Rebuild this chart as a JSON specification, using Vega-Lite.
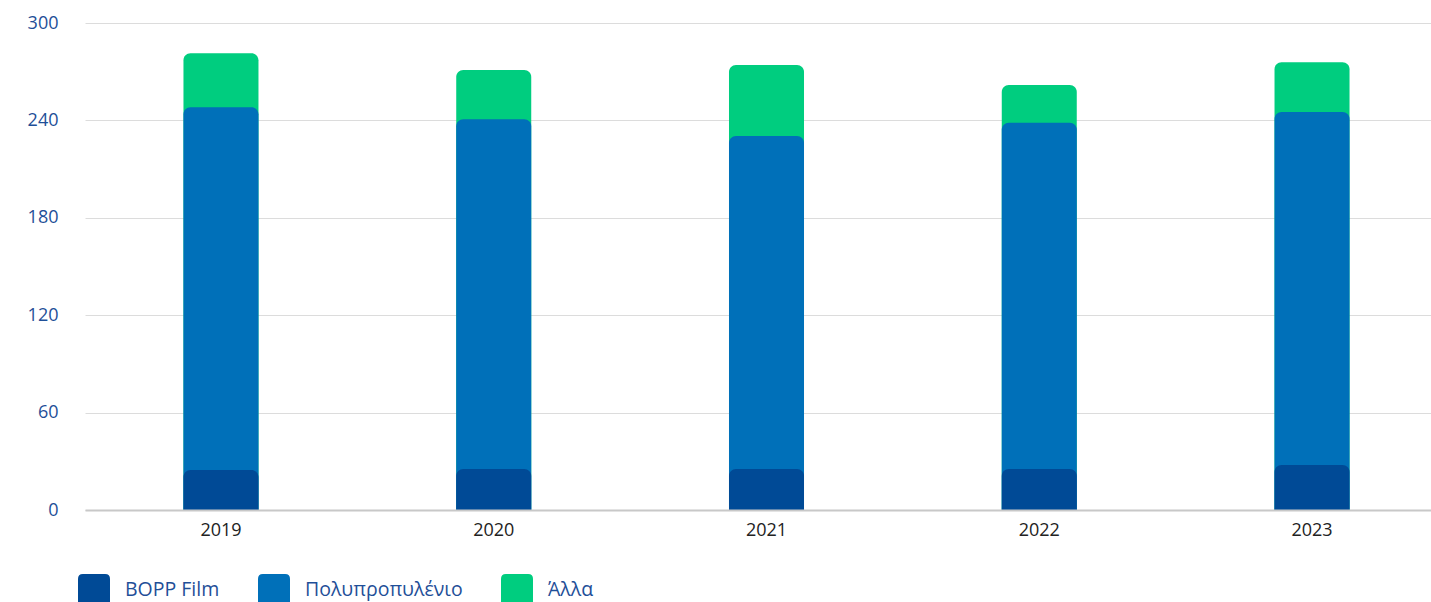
{
  "$schema": "https://vega.github.io/schema/vega-lite/v6.json",
  "autosize": "none",
  "width": 1363,
  "height": 487,
  "padding": {"left": 85, "top": 23, "right": 0, "bottom": 92},
  "background": "white",
  "config": {"view": {"stroke": null}, "font": "Open Sans"},
  "data": {
    "values": [
      {"year": "2019", "type": "Άλλα", "ord": 3, "value": 33.2},
      {"year": "2019", "type": "Πολυπροπυλένιο", "ord": 2, "value": 223.5},
      {"year": "2019", "type": "BOPP Film", "ord": 1, "value": 24.6},
      {"year": "2020", "type": "Άλλα", "ord": 3, "value": 30.4},
      {"year": "2020", "type": "Πολυπροπυλένιο", "ord": 2, "value": 215.4},
      {"year": "2020", "type": "BOPP Film", "ord": 1, "value": 25.3},
      {"year": "2021", "type": "Άλλα", "ord": 3, "value": 43.7},
      {"year": "2021", "type": "Πολυπροπυλένιο", "ord": 2, "value": 205.1},
      {"year": "2021", "type": "BOPP Film", "ord": 1, "value": 25.3},
      {"year": "2022", "type": "Άλλα", "ord": 3, "value": 23.2},
      {"year": "2022", "type": "Πολυπροπυλένιο", "ord": 2, "value": 213.3},
      {"year": "2022", "type": "BOPP Film", "ord": 1, "value": 25.3},
      {"year": "2023", "type": "Άλλα", "ord": 3, "value": 30.6},
      {"year": "2023", "type": "Πολυπροπυλένιο", "ord": 2, "value": 217.5},
      {"year": "2023", "type": "BOPP Film", "ord": 1, "value": 27.7}
    ]
  },
  "transform": [
    {"stack": "value", "groupby": ["year"], "sort": [{"field": "ord", "order": "ascending"}], "as": ["v0", "v1"]}
  ],
  "mark": {"type": "bar", "cornerRadiusTopLeft": 7, "cornerRadiusTopRight": 7},
  "encoding": {
    "x": {
      "field": "year",
      "type": "nominal",
      "sort": null,
      "scale": {"paddingInner": 0.725, "paddingOuter": 0.361},
      "axis": {
        "title": null,
        "labelAngle": 0,
        "ticks": false,
        "domainColor": "#c8c8c8",
        "domainWidth": 2,
        "labelPadding": 11,
        "labelFontSize": 18,
        "labelColor": "#222222",
        "grid": false,
        "zindex": 1
      }
    },
    "y": {
      "field": "v1",
      "type": "quantitative",
      "stack": null,
      "scale": {"domain": [0, 300], "nice": false},
      "axis": {
        "title": null,
        "values": [0, 60, 120, 180, 240, 300],
        "ticks": false,
        "domain": false,
        "labelPadding": 27,
        "labelFontSize": 18,
        "labelColor": "#1f4f98",
        "gridColor": "#dcdcdc",
        "gridWidth": 1
      }
    },
    "y2": {"datum": 0},
    "color": {
      "field": "type",
      "type": "nominal",
      "scale": {
        "domain": ["BOPP Film", "Πολυπροπυλένιο", "Άλλα"],
        "range": ["#004a96", "#0070b9", "#00cd7f"]
      },
      "legend": {
        "title": null,
        "orient": "none",
        "direction": "horizontal",
        "legendX": -7,
        "legendY": 551,
        "padding": 0,
        "symbolType": "M-1,-0.7Q-1,-1,-0.7,-1L0.7,-1Q1,-1,1,-0.7L1,0.7Q1,1,0.7,1L-0.7,1Q-1,1,-1,0.7Z",
        "symbolSize": 1024,
        "symbolStrokeWidth": 0,
        "symbolOpacity": 1,
        "labelFontSize": 19.5,
        "labelColor": "#1f4f98",
        "labelOffset": 15,
        "columnPadding": 38
      }
    }
  }
}
